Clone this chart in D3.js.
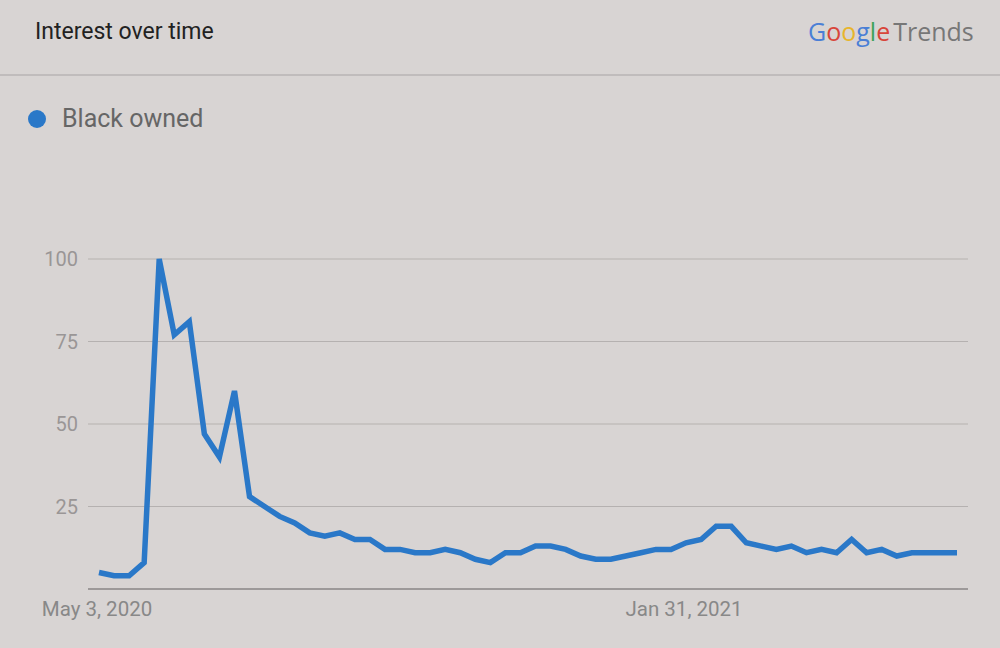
<!DOCTYPE html>
<html><head><meta charset="utf-8">
<script src="https://cdn.jsdelivr.net/npm/d3@7"></script>
<style>body{margin:0;background:#d8d4d3;font-family:Roboto,"Noto Sans",sans-serif}</style>
</head><body><svg id="c" width="1000" height="648"></svg>
<script>
const startDate = "2020-05-03";
const values = [5,4,4,8,100,77,81,47,40,60,28,25,22,20,17,16,17,15,15,12,12,11,11,12,11,9,8,11,11,13,13,12,10,9,9,10,11,12,12,14,15,19,19,14,13,12,13,11,12,11,15,11,12,10,11,11,11,11];
const yTicks = [25,50,75,100];
const xTickLabels = ["May 3, 2020","Jan 31, 2021"];
const xTickIdx = [0,39];
const seriesName = "Black owned";

const svg = d3.select("#c");
svg.append("rect").attr("width",1000).attr("height",648).attr("fill","#d8d4d3");
svg.append("text").attr("x",35).attr("y",39).attr("font-size",23).attr("fill","#222").text("Interest over time");
svg.append("line").attr("x1",0).attr("x2",1000).attr("y1",75).attr("y2",75).attr("stroke","#b9b5b4").attr("stroke-width",1.5);
const g = svg.append("text").attr("x",808).attr("y",41).attr("font-size",25).attr("font-family","'Open Sans',sans-serif");
[["G","#4a7fd6"],["o","#d8453a"],["o","#e8b52c"],["g","#4a7fd6"],["l","#3da35a"],["e","#d8453a"]].forEach(([c,col])=>g.append("tspan").attr("fill",col).text(c));
g.append("tspan").attr("fill","#777").attr("dx",3).text("Trends");
svg.append("circle").attr("cx",37).attr("cy",119).attr("r",9).attr("fill","#2a78c8");
svg.append("text").attr("x",62).attr("y",127).attr("font-size",25).attr("fill","#666").text(seriesName);

const x = d3.scaleLinear().domain([0,values.length-1]).range([99,957]);
const y = d3.scaleLinear().domain([0,100]).range([589,259]);
const grid = svg.append("g");
yTicks.forEach(t=>{
  grid.append("line").attr("x1",88).attr("x2",968).attr("y1",y(t)).attr("y2",y(t)).attr("stroke","#b5b1b0").attr("stroke-width",1.2);
  grid.append("text").attr("x",78).attr("y",y(t)+7).attr("text-anchor","end").attr("font-size",20).attr("fill","#9a9696").text(t);
});
svg.append("line").attr("x1",88).attr("x2",968).attr("y1",y(0)).attr("y2",y(0)).attr("stroke","#8a8686").attr("stroke-width",1.5);
xTickIdx.forEach((i,k)=>{
  svg.append("text").attr("x",x(i)-2).attr("y",616).attr("text-anchor","middle").attr("font-size",20.5).attr("fill","#888").text(xTickLabels[k]);
});
svg.append("path").datum(values)
  .attr("d",d3.line().x((d,i)=>x(i)).y(d=>y(d)))
  .attr("fill","none").attr("stroke","#2a78c8").attr("stroke-width",5.5).attr("stroke-linejoin","miter");
</script></body></html>
